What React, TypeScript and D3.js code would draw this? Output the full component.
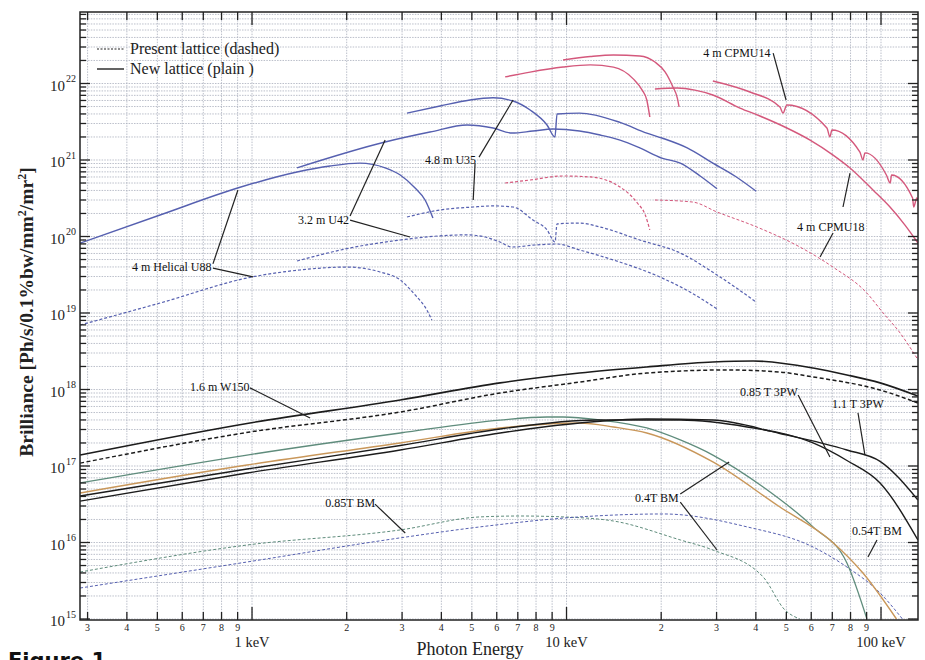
import React from 'react';
import * as d3 from 'd3';

type Pt = [number, number];

// ---------------- data (photon energy keV, brilliance) ----------------
const helicalU88New: Pt[] = [[0.284,8.2e19],[0.51,1.91e20],[0.916,4.4e20],[1.39,6.97e20],[1.77,8.35e20],[2.2,9.1e20],[2.65,7.9e20],[2.96,6.37e20],[3.3,4.3e20],[3.55,3.0e20],[3.76,1.75e20]];
const helicalU88Old: Pt[] = [[0.284,6.97e18],[0.51,1.35e19],[1.0,2.96e19],[1.42,3.65e19],[2.0,3.99e19],[2.55,3.44e19],[2.96,2.7e19],[3.3,1.72e19],[3.6,1.09e19],[3.73,8.1e18]];
const u42New: Pt[] = [[1.39,7.9e20],[2.65,1.72e21],[3.68,2.32e21],[4.83,2.87e21],[5.84,2.62e21],[6.71,2.25e21],[7.82,2.39e21],[9.06,2.54e21],[11.0,2.39e21],[12.8,2.12e21],[14.8,1.82e21],[17.1,1.44e21],[20.1,1.06e21],[23.0,9.1e20],[26.6,6.18e20],[30.1,4.2e20]];
const u42Old: Pt[] = [[1.39,4.78e19],[2.05,7.08e19],[2.96,9.0e19],[3.96,1.02e20],[4.83,1.05e20],[5.51,9.85e19],[6.14,8.47e19],[6.71,7.29e19],[7.94,7.74e19],[9.33,7.98e19],[11.0,6.67e19],[14.1,4.93e19],[19.8,2.96e19],[24.7,1.88e19],[30.1,1.13e19]];
const u35New: Pt[] = [[3.11,4.1e21],[3.96,5.08e21],[4.93,6.09e21],[5.84,6.5e21],[6.76,5.9e21],[7.66,4.5e21],[8.67,2.87e21],[9.19,2.0e21],[9.33,4.0e21],[11.0,4.1e21],[14.8,3.1e21],[18.0,2.25e21],[20.1,1.94e21],[24.2,1.44e21],[29.2,9.1e20],[34.3,6.18e20],[40.1,3.9e20]];
const u35Old: Pt[] = [[3.11,1.8e20],[3.96,2.22e20],[5.05,2.43e20],[5.84,2.51e20],[6.76,2.43e20],[7.82,1.64e20],[8.67,1.22e20],[9.19,8.47e19],[9.33,1.46e20],[11.0,1.5e20],[12.8,1.33e20],[17.1,9.0e19],[23.0,6.08e19],[30.1,3.14e19],[40.1,1.39e19]];
const cpmuNewA: Pt[] = [[6.38,1.22e22],[7.66,1.41e22],[9.75,1.64e22],[11.9,1.75e22],[14.1,1.64e22],[16.3,1.15e22],[17.4,8.2e21],[18.0,6.09e21],[18.4,3.65e21]];
const cpmuNewB: Pt[] = [[9.75,2.03e22],[11.9,2.25e22],[14.1,2.36e22],[17.1,2.29e22],[19.1,1.91e22],[20.6,1.41e22],[21.8,9.0e21],[22.5,6.5e21],[22.8,4.93e21]];
const cpmu18New: Pt[] = [[19.1,8.47e21],[22.5,8.73e21],[25.6,8.2e21],[29.2,7.08e21],[35.6,4.78e21],[41.2,3.76e21],[50.2,2.62e21],[59.5,1.82e21],[70.4,1.16e21],[79.7,7.86e20],[94.3,4.05e20],[106.8,2.43e20],[119.2,1.41e20],[131.1,8.2e19]];
const cpmu14New: Pt[] = [[29.2,1.08e22],[38.3,7.74e21],[47.7,4.93e21],[48.8,4.11e21],[50.2,5.24e21],[67.3,2.62e21],[68.8,2.0e21],[69.8,2.47e21],[85.7,1.27e21],[87.6,1.0e21],[88.9,1.24e21],[104,6.37e20],[107,5.0e20],[108,6.37e20],[126,3.18e20],[127,2.43e20],[130,3.18e20],[131.1,3.0e20]];
const cpmuOldA: Pt[] = [[6.38,5.0e20],[7.66,5.48e20],[9.75,6.18e20],[11.9,6.0e20],[14.8,4.44e20],[16.8,2.74e20],[17.8,1.91e20],[18.4,1.22e20]];
const cpmu18Old: Pt[] = [[19.1,3.0e20],[25.2,2.82e20],[30.1,2.09e20],[40.3,1.33e20],[55.2,7.29e19],[70.3,3.99e19],[90.2,1.82e19],[101,1.03e19],[115,5.48e18],[130,2.58e18]];
const w150New: Pt[] = [[0.284,1.39e17],[0.985,3.65e17],[2.96,7.29e17],[6.15,1.22e18],[11.0,1.64e18],[18.0,1.97e18],[29.2,2.29e18],[39.2,2.36e18],[60.8,1.91e18],[77.9,1.55e18],[99.3,1.22e18],[131,8.2e17]];
const w150Old: Pt[] = [[0.284,1.09e17],[0.985,2.78e17],[2.96,5.08e17],[6.15,9.0e17],[11.0,1.25e18],[18.0,1.64e18],[32.4,1.8e18],[47.7,1.69e18],[60.8,1.46e18],[99.3,9.85e17],[131,6.67e17]];
const bm04New: Pt[] = [[0.284,6.0e16],[0.964,1.39e17],[2.96,2.7e17],[6.15,3.99e17],[8.67,4.37e17],[9.75,4.37e17],[12.8,3.99e17],[18.0,3.14e17],[23.0,2.19e17],[29.2,1.39e17],[42.2,5.31e16],[60.8,1.6e16],[77.9,5.4e15],[90.2,1.0e15]];
const bm054New: Pt[] = [[0.284,4.44e16],[0.964,1.03e17],[2.96,2.0e17],[6.15,3.14e17],[11.0,3.65e17],[14.1,3.24e17],[18.0,2.7e17],[29.2,1.13e17],[47.7,2.91e16],[68.8,1.08e16],[87.6,3.99e15],[112,1.0e15]];
const pw085New: Pt[] = [[0.284,4.06e16],[0.964,9.14e16],[2.96,1.85e17],[6.15,3.05e17],[12.5,3.99e17],[23.0,3.99e17],[37.5,3.24e17],[60.8,2.0e17],[77.9,1.18e17],[99.3,6.0e16],[131,1.08e16]];
const pw11New: Pt[] = [[0.284,3.48e16],[0.964,8.1e16],[2.96,1.62e17],[6.15,2.7e17],[11.0,3.65e17],[18.0,4.11e17],[29.2,3.99e17],[47.7,2.66e17],[77.9,1.62e17],[99.3,1.15e17],[131,3.6e16]];
const bm04Old: Pt[] = [[0.284,4.11e15],[0.964,9.27e15],[2.96,1.46e16],[5.31,2.16e16],[7.11,2.22e16],[9.75,2.16e16],[14.1,1.91e16],[23.0,1.08e16],[29.2,7.98e15],[42.2,3.54e15],[49.5,1.31e15],[55.2,1.0e15]];
const bm085Old: Pt[] = [[0.284,2.54e15],[0.964,5.56e15],[2.96,1.15e16],[5.31,1.6e16],[11.0,2.16e16],[20.3,2.36e16],[37.5,1.6e16],[60.8,8.73e15],[77.9,4.78e15],[99.3,2.19e15],[117,1.0e15]];

// tick labels
const yExponents = [15, 16, 17, 18, 19, 20, 21, 22];
const xMinorDigits = [2, 3, 4, 5, 6, 7, 8, 9];
const xDecades = [0.1, 1, 10, 100];
const xMajorValues = [1, 10, 100];
const xMajorLabels = ['1 keV', '10 keV', '100 keV'];
const legendLabels = ['Present lattice (dashed)', 'New lattice (plain )'];

type Ann = { text: string; at: Pt; leaders: [Pt, Pt][] };
const annotations: Ann[] = [
  { text: '4 m Helical U88', at: [0.415, 3.54e19], leaders: [[[0.751, 4.38e19], [0.902, 4.05e20]], [[0.751, 3.87e19], [1.007, 2.96e19]]] },
  { text: '3.2 m U42', at: [1.40, 1.46e20], leaders: [[[2.05, 1.85e20], [2.65, 1.82e21]], [[2.05, 1.64e20], [3.18, 9.85e19]]] },
  { text: '4.8 m U35', at: [3.55, 8.86e20], leaders: [[[5.27, 1.09e21], [6.76, 6.09e21]], [[5.12, 9.1e20], [5.05, 3.0e20]]] },
  { text: '4 m CPMU14', at: [27.2, 2.22e22], leaders: [[[45.4, 2.5e22], [49.9, 6.09e21]]] },
  { text: '4 m CPMU18', at: [54.1, 1.18e20], leaders: [[[75.7, 2.43e20], [79.7, 6.76e20]], [[70.4, 1.11e20], [64.0, 5.4e19]]] },
  { text: '1.6 m W150', at: [0.635, 9.55e17], leaders: [[[0.985, 1.05e18], [1.53, 4.24e17]]] },
  { text: '0.85T BM', at: [1.71, 2.91e16], leaders: [[[2.46, 3.18e16], [3.07, 1.33e16]]] },
  { text: '0.4T BM', at: [16.5, 3.38e16], leaders: [[[23.0, 4.31e16], [32.9, 1.13e17]], [[23.0, 3.38e16], [30.1, 7.98e15]]] },
  { text: '0.85 T 3PW', at: [35.6, 8.2e17], leaders: [[[54.5, 8.47e17], [68.8, 1.31e17]]] },
  { text: '1.1 T 3PW', at: [69.8, 5.73e17], leaders: [[[84.5, 4.93e17], [88.9, 1.39e17]]] },
  { text: '0.54T BM', at: [80.9, 1.25e16], leaders: [[[97.1, 1.08e16], [90.9, 6.46e15]]] },
];

// ---------------- layout & style ----------------
const W = 925, H = 660;
const L = 80, R = 918, T = 12, B = 620;
const BLUE = '#5660b0', RED = '#d4587c', GREEN = '#5f8c7c', ORANGE = '#c9975a', BLACK = '#1c1c1c';
const SERIF = '"Liberation Serif", "DejaVu Serif", Times, serif';

type S = { data: Pt[]; color: string; dashed?: boolean; width?: number; dash?: string };
const series: S[] = [
  { data: helicalU88New, color: BLUE }, { data: helicalU88Old, color: BLUE, dashed: true },
  { data: u42New, color: BLUE }, { data: u42Old, color: BLUE, dashed: true },
  { data: u35New, color: BLUE }, { data: u35Old, color: BLUE, dashed: true },
  { data: cpmuNewA, color: RED }, { data: cpmuNewB, color: RED },
  { data: cpmu18New, color: RED }, { data: cpmu14New, color: RED },
  { data: cpmuOldA, color: RED, dashed: true }, { data: cpmu18Old, color: RED, dashed: true, width: 1 },
  { data: bm04Old, color: GREEN, dashed: true, width: 1 }, { data: bm085Old, color: BLUE, dashed: true, width: 1 },
  { data: bm04New, color: GREEN, width: 1.3 }, { data: bm054New, color: ORANGE, width: 1.4 },
  { data: pw085New, color: BLACK }, { data: pw11New, color: BLACK },
  { data: w150New, color: BLACK, width: 1.6 }, { data: w150Old, color: BLACK, dashed: true, width: 1.5, dash: '4,2.5' },
];

export default function App() {
  const x = d3.scaleLog().domain([0.2838, 131.1]).range([L, R]);
  const y = d3.scaleLog().domain([1e15, 1e23]).range([619, 7]);
  const line = d3.line<Pt>().x(d => x(d[0])).y(d => y(d[1])).curve(d3.curveMonotoneX);

  const [x0, x1] = x.domain();
  const xTicks: { v: number; major: boolean; digit: number }[] = [];
  xDecades.forEach(dec => {
    [1, ...xMinorDigits].forEach(n => {
      const v = n * dec;
      if (v > x0 && v < x1) xTicks.push({ v, major: n === 1, digit: n });
    });
  });
  const yTicks: { v: number; major: boolean }[] = [];
  yExponents.forEach(e => {
    [1, ...xMinorDigits].forEach(n => {
      const v = n * Math.pow(10, e);
      if (y(v) >= T - 0.5 && y(v) <= B) yTicks.push({ v, major: n === 1 });
    });
  });

  return (
    <svg width={W} height={H} style={{ position: 'absolute', left: 0, top: 0, background: '#fff' }} fontFamily={SERIF}>
      <defs>
        <clipPath id="plot"><rect x={L} y={T} width={R - L} height={B - T} /></clipPath>
      </defs>
      <rect x={0} y={0} width={W} height={H} fill="#fff" />
      {/* grid */}
      <g stroke="#a9aebd" strokeWidth={0.8} strokeDasharray="1.5,1.2">
        {xTicks.map((t, i) => <line key={'gx' + i} x1={x(t.v)} x2={x(t.v)} y1={T} y2={B} />)}
        {yTicks.map((t, i) => <line key={'gy' + i} x1={L} x2={R} y1={y(t.v)} y2={y(t.v)} />)}
      </g>
      {/* curves */}
      <g clipPath="url(#plot)" fill="none">
        {series.map((s, i) => (
          <path key={'s' + i} d={line(s.data) || ''} stroke={s.color}
            strokeWidth={s.width ?? (s.dashed ? 1.2 : 1.4)}
            strokeDasharray={s.dashed ? (s.dash ?? '3,2') : undefined} />
        ))}
      </g>
      {/* annotations */}
      <g>
        {annotations.map((a, i) => (
          <g key={'a' + i}>
            {a.leaders.map((l, j) => (
              <line key={j} x1={x(l[0][0])} y1={y(l[0][1])} x2={x(l[1][0])} y2={y(l[1][1])} stroke="#222" strokeWidth={1.2} />
            ))}
            <text x={x(a.at[0])} y={y(a.at[1])} fontSize={12} fill="#111">{a.text}</text>
          </g>
        ))}
      </g>
      {/* frame */}
      <rect x={L} y={T} width={R - L} height={B - T} fill="none" stroke="#222" strokeWidth={1.5} />
      {/* ticks */}
      <g stroke="#222" strokeWidth={1.3}>
        {xTicks.map((t, i) => {
          const len = t.major ? 13 : 8;
          return (
            <g key={'tx' + i}>
              <line x1={x(t.v)} x2={x(t.v)} y1={B} y2={B - len} />
              <line x1={x(t.v)} x2={x(t.v)} y1={T} y2={T + len} />
            </g>
          );
        })}
        {yTicks.map((t, i) => {
          const len = t.major ? 10 : 6;
          return (
            <g key={'ty' + i}>
              <line x1={L} x2={L + len} y1={y(t.v)} y2={y(t.v)} />
              <line x1={R} x2={R - len} y1={y(t.v)} y2={y(t.v)} />
            </g>
          );
        })}
      </g>
      {/* x tick labels */}
      <g fill="#222" textAnchor="middle">
        {xTicks.filter(t => !t.major).map((t, i) => (
          <text key={'lx' + i} x={x(t.v)} y={630.5} fontSize={10}>{t.digit}</text>
        ))}
        {xMajorValues.map((v, i) => (
          <text key={'lM' + i} x={x(v)} y={647} fontSize={14.5}>{xMajorLabels[i]}</text>
        ))}
      </g>
      {/* y tick labels */}
      <g fill="#222">
        {yExponents.map(e => (
          <g key={'ly' + e}>
            <text x={65} y={y(Math.pow(10, e)) + 7} fontSize={15} textAnchor="end">10</text>
            <text x={66} y={y(Math.pow(10, e)) - 1.5} fontSize={10}>{e}</text>
          </g>
        ))}
      </g>
      {/* axis titles */}
      <text x={470} y={655} fontSize={18} textAnchor="middle" fill="#222">Photon Energy</text>
      <text transform="translate(33,312) rotate(-90)" fontSize={19.5} fontWeight="bold" textAnchor="middle" fill="#222">
        Brilliance [Ph/s/0.1%bw/mm<tspan dy={-7} fontSize={12}>2</tspan><tspan dy={7}>/mr</tspan><tspan dy={-7} fontSize={12}>2</tspan><tspan dy={7}>]</tspan>
      </text>
      {/* legend */}
      <g>
        <line x1={97} x2={124} y1={49} y2={49} stroke="#222" strokeWidth={1.2} strokeDasharray="2,1.5" />
        <text x={130} y={54} fontSize={16} fill="#222">{legendLabels[0]}</text>
        <line x1={97} x2={124} y1={69} y2={69} stroke="#222" strokeWidth={1.4} />
        <text x={130} y={74} fontSize={16} fill="#222">{legendLabels[1]}</text>
      </g>
      <text x={8} y={668} fontSize={21} fontWeight="bold" fontFamily='"DejaVu Sans", sans-serif' fill="#111">Figure 1</text>
    </svg>
  );
}
